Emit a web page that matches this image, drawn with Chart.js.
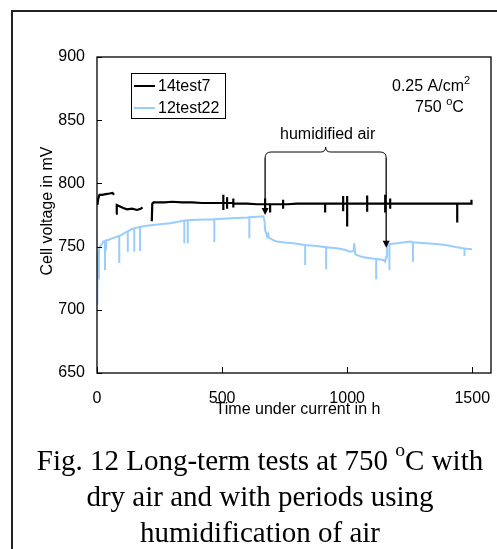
<!DOCTYPE html>
<html>
<head>
<meta charset="utf-8">
<script src="https://cdn.jsdelivr.net/npm/chart.js@4.4.1/dist/chart.umd.min.js"></script>
<style>
  html, body { margin: 0; padding: 0; background: #fff; }
  body { width: 497px; height: 549px; position: relative; overflow: hidden; }
  #frame {
    position: absolute; left: 11px; top: 10px; width: 600px; height: 600px;
    border-left: 2px solid #222; border-top: 2px solid #222;
  }
  #wrap { position: absolute; left: 0; top: 0; width: 497px; height: 549px; }
  #caption {
    position: absolute; left: 0; top: 442px; width: 520px;
    font-family: "Liberation Serif", "Times New Roman", serif;
    font-size: 29px; line-height: 36px; text-align: center; color: #000;
  }
  #caption sup { font-size: 0.68em; position: relative; top: -0.12em; vertical-align: top; line-height: 1; }
</style>
</head>
<body>
<div id="frame"></div>
<div id="wrap"><canvas id="chart"></canvas></div>
<div id="caption">Fig. 12 Long-term tests at 750 <sup>o</sup>C with<br>dry air and with periods using<br>humidification of air</div>
<script>
// 14test7 (black), time in h / cell voltage in mV, null = gap in record
const blackHours = [
  2, 5, 10, 20, 35, 50, 62, 68, 72, 76,
  79, 90, 105, 120, 140, 160, 175, 182, 200, 219,
  221, 226, 240, 270, 300, 340, 380, 420, 460, 500,
  505, 505, 505, 505, 510, 520, 520, 520, 520, 530,
  545, 545, 545, 545, 560, 600, 640, 672, 672, 672,
  672, 680, 692, 692, 692, 700, 720, 744, 744, 744,
  744, 760, 800, 850, 900, 912, 912, 912, 930, 960,
  984, 984, 984, 984, 992, 1000, 1000, 1000, 1000, 1010,
  1040, 1080, 1080, 1080, 1080, 1100, 1130, 1152, 1152, 1152,
  1152, 1160, 1172, 1172, 1172, 1172, 1200, 1250, 1300, 1350,
  1400, 1440, 1440, 1440, 1460, 1490, 1496, 1497
];
const blackVolts = [
  783, 788, 791, 791, 791.5, 792, 792.5, 791, null, 776,
  783, 782, 780.5, 779.5, 780, 779, 780, 781, null, 770,
  784, 785, 785, 785, 785.5, 785, 785, 784.5, 784.5, 784.5,
  784.5, 791, 779, 784.5, 784.5, 784.5, 789, 780, 784.5, 784.5,
  784.5, 788, 781, 784, 784, 784, 783.5, 783.5, 788, 779,
  783.5, 783.5, 783.5, 777, 783.5, 783.5, 783.5, 783.5, 787, 780,
  783.5, 783.5, 784, 784, 784, 784, 777, 784, 784, 784,
  784, 790, 778, 784, 784, 784, 766, 790, 784, 784,
  784, 784, 790.5, 777.5, 784, 784, 784, 784, 791, 777,
  784, 784, 784, 788, 780, 784, 784, 784, 784, 784,
  784, 784, 769, 784, 784, 784, 784, 787
];

// 12test22 (light blue)
const blueHours = [
  0, 1, 2, 5, 8, 8, 8, 12, 20, 25,
  32, 32, 32, 36, 36, 36, 45, 60, 79, 89,
  89, 89, 100, 119, 123, 123, 123, 140, 149, 149,
  149, 160, 172, 172, 172, 190, 225, 260, 292, 320,
  345, 349, 349, 349, 363, 363, 363, 400, 440, 469,
  469, 469, 520, 560, 600, 609, 609, 609, 640, 665,
  670, 672, 676, 680, 684, 688, 692, 705, 719, 750,
  785, 832, 832, 832, 879, 916, 916, 916, 959, 990,
  1012, 1026, 1028, 1032, 1040, 1065, 1100, 1116, 1116, 1116,
  1145, 1152, 1156, 1159, 1169, 1169, 1169, 1180, 1199, 1230,
  1252, 1263, 1263, 1263, 1300, 1359, 1400, 1439, 1469, 1469,
  1469, 1499
];
const blueVolts = [
  705, 725, 740, 745, 748, 724, 748, 750, 752, 754,
  754.5, 731.5, 754.5, 754.8, 747, 754.8, 755.2, 756.5, 757.8, 758.5,
  737, 758.5, 759.5, 761.8, 762, 746, 762, 764, 764.5, 746,
  764.5, 765, 765.5, 746.5, 765.5, 766.3, 767.1, 767.8, 768.4, 769.5,
  770.5, 770.6, 752.6, 770.6, 770.8, 752.6, 770.8, 771.2, 771.5, 771.6,
  753.6, 771.6, 772.2, 772.6, 773, 773.2, 756.6, 773.2, 773.6, 774,
  770, 763, 761, 758, 760, 757, 756.6, 755, 754, 753.2,
  752.6, 751.2, 735.5, 751.2, 750.5, 749.5, 732, 749.5, 748.7, 747.5,
  746, 746.5, 752.6, 744.1, 743.2, 741.5, 740.5, 740.2, 724.2, 740.2,
  739.4, 738, 742, 751.3, 751.8, 731.5, 751.8, 752.2, 752.6, 753.4,
  754, 753.4, 738, 753.4, 752.8, 752, 751, 749.4, 748.4, 742.6,
  748.4, 747.9
];

const seriesLabels = ['14test7', '12test22'];
const xTicks = [0, 500, 1000, 1500];
const yTicks = [650, 700, 750, 800, 850, 900];

// humidified air period: start / end hour, arrow tip voltage
const humidHours = [672, 1156];
const humidTips = [775, 749];

function toPoints(xs, ys) {
  return xs.map((x, i) => ({ x: x, y: ys[i] }));
}

const FONT = '"Liberation Sans", Arial, sans-serif';

// text with a superscript part, e.g. cm^2
function supText(ctx, parts, x, y) {
  parts.forEach(([txt, sup]) => {
    ctx.font = (sup ? '11px ' : '16px ') + FONT;
    ctx.fillText(txt, x, sup ? y - 7 : y);
    x += ctx.measureText(txt).width;
  });
}

const decorations = {
  id: 'decorations',
  afterDraw(chart) {
    const ctx = chart.ctx;
    const a = chart.chartArea;
    const xs = chart.scales.x;
    const ys = chart.scales.y;
    ctx.save();

    // plot box
    ctx.strokeStyle = '#000';
    ctx.lineWidth = 1.3;
    ctx.strokeRect(a.left, a.top, a.right - a.left, a.bottom - a.top);

    // inward tick marks
    ctx.lineWidth = 1;
    yTicks.forEach(v => {
      const y = Math.round(ys.getPixelForValue(v)) + 0.5;
      ctx.beginPath(); ctx.moveTo(a.left, y); ctx.lineTo(a.left + 5, y); ctx.stroke();
    });
    xTicks.forEach(v => {
      const x = Math.round(xs.getPixelForValue(v)) + 0.5;
      ctx.beginPath(); ctx.moveTo(x, a.bottom); ctx.lineTo(x, a.bottom - 6); ctx.stroke();
    });

    // axis titles
    ctx.fillStyle = '#000';
    ctx.font = '16px ' + FONT;
    ctx.textAlign = 'center';
    ctx.textBaseline = 'middle';
    ctx.fillText('Time under current in h', 298, 410);
    ctx.save();
    ctx.translate(48, 211);
    ctx.rotate(-Math.PI / 2);
    ctx.fillText('Cell voltage in mV', 0, 0);
    ctx.restore();

    // legend
    ctx.lineWidth = 1;
    ctx.strokeStyle = '#000';
    ctx.strokeRect(131.5, 73.5, 94, 45);
    chart.data.datasets.forEach((ds, i) => {
      const y = 86 + i * 22;
      ctx.strokeStyle = ds.borderColor;
      ctx.lineWidth = 2;
      ctx.beginPath(); ctx.moveTo(134, y); ctx.lineTo(155, y); ctx.stroke();
      ctx.fillStyle = '#000';
      ctx.textAlign = 'left';
      ctx.fillText(ds.label, 158, y + 1);
    });

    // conditions text
    ctx.textAlign = 'left';
    ctx.textBaseline = 'alphabetic';
    supText(ctx, [['0.25 A/cm', false], ['2', true]], 392, 91);
    supText(ctx, [['750 ', false], ['o', true], ['C', false]], 415, 112);

    // humidified air brace and arrows
    const x0 = xs.getPixelForValue(humidHours[0]);
    const x1 = xs.getPixelForValue(humidHours[1]);
    const xm = (x0 + x1) / 2;
    const yb = 152;
    ctx.font = '16px ' + FONT;
    ctx.textAlign = 'center';
    ctx.textBaseline = 'middle';
    ctx.fillText('humidified air', xm + 2, 135);
    ctx.strokeStyle = '#000';
    ctx.lineWidth = 1;
    ctx.beginPath();
    ctx.moveTo(x0, yb + 6);
    ctx.quadraticCurveTo(x0, yb, x0 + 6, yb);
    ctx.lineTo(xm - 5, yb);
    ctx.quadraticCurveTo(xm, yb, xm, yb - 5);
    ctx.quadraticCurveTo(xm, yb, xm + 5, yb);
    ctx.lineTo(x1 - 6, yb);
    ctx.quadraticCurveTo(x1, yb, x1, yb + 6);
    ctx.stroke();
    [[x0, humidTips[0]], [x1, humidTips[1]]].forEach(([x, v]) => {
      const tip = ys.getPixelForValue(v);
      ctx.lineWidth = 1.3;
      ctx.beginPath(); ctx.moveTo(x, yb + 6); ctx.lineTo(x, tip - 5); ctx.stroke();
      ctx.fillStyle = '#000';
      ctx.beginPath();
      ctx.moveTo(x - 3.5, tip - 7); ctx.lineTo(x + 3.5, tip - 7); ctx.lineTo(x, tip);
      ctx.closePath(); ctx.fill();
    });

    ctx.restore();
  }
};

new Chart(document.getElementById('chart'), {
  type: 'scatter',
  data: {
    datasets: [
      {
        label: seriesLabels[0],
        data: toPoints(blackHours, blackVolts),
        showLine: true,
        borderColor: '#000000',
        borderWidth: 2.2,
        pointRadius: 0,
        spanGaps: false,
        order: 1
      },
      {
        label: seriesLabels[1],
        data: toPoints(blueHours, blueVolts),
        showLine: true,
        borderColor: '#99ccff',
        borderWidth: 2,
        pointRadius: 0,
        spanGaps: false,
        order: 2
      }
    ]
  },
  options: {
    responsive: true,
    maintainAspectRatio: false,
    animation: false,
    events: [],
    layout: { padding: { left: 0, top: 57, right: 6, bottom: 0 } },
    scales: {
      x: {
        type: 'linear',
        min: 0,
        max: 1575,
        afterFit: s => { s.height = 176; s.paddingLeft = 0; s.paddingRight = 0; },
        afterBuildTicks: s => { s.ticks = xTicks.map(v => ({ value: v })); },
        grid: { display: false, drawTicks: false },
        border: { display: false },
        ticks: {
          color: '#000', font: { size: 16, family: FONT }, padding: 16, maxRotation: 0,
          callback: v => String(v)
        }
      },
      y: {
        min: 650,
        max: 900,
        afterFit: s => { s.width = 97; s.paddingTop = 0; s.paddingBottom = 0; },
        afterBuildTicks: s => { s.ticks = yTicks.map(v => ({ value: v })); },
        grid: { display: false, drawTicks: false },
        border: { display: false },
        ticks: { color: '#000', font: { size: 16, family: FONT }, padding: 12, callback: v => String(v) }
      }
    },
    plugins: {
      legend: { display: false },
      tooltip: { enabled: false }
    }
  },
  plugins: [decorations]
});
</script>
</body>
</html>
